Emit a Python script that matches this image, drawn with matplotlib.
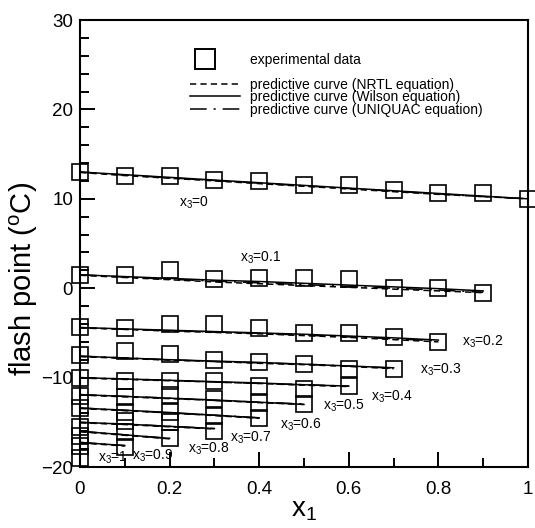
import numpy as np
import matplotlib
matplotlib.use('Agg')
import matplotlib.pyplot as plt
from matplotlib.ticker import MultipleLocator

plt.rcParams['font.family'] = ['Liberation Sans', 'DejaVu Sans']
plt.rcParams['mathtext.fontset'] = 'custom'
plt.rcParams['mathtext.rm'] = 'Liberation Sans'
plt.rcParams['mathtext.it'] = 'Liberation Sans:italic'
plt.rcParams['lines.scale_dashes'] = False

# ----------------------------------------------------------------------
# Data
# ----------------------------------------------------------------------

x1_grid = [0.0, 0.1, 0.2, 0.3, 0.4, 0.5, 0.6, 0.7, 0.8, 0.9, 1.0]
x3_values = [0, 0.1, 0.2, 0.3, 0.4, 0.5, 0.6, 0.7, 0.8, 0.9, 1]

exp_flash = [
    [13.0, 12.5, 12.5, 12.1, 12.0, 11.5, 11.5, 11.0, 10.6, 10.6, 10.0],
    [1.5, 1.5, 2.0, 1.05, 1.15, 1.15, 1.05, 0.05, 0.05, -0.5],
    [-4.3, -4.5, -4.0, -4.0, -4.4, -5.0, -5.0, -5.5, -6.0],
    [-7.5, -7.0, -7.4, -8.0, -8.3, -8.5, -9.0, -9.0],
    [-10.0, -10.4, -10.4, -10.4, -10.95, -11.3, -10.95],
    [-12.1, -12.2, -12.0, -12.4, -12.8, -13.0],
    [-13.4, -13.8, -13.8, -14.3, -14.5],
    [-15.5, -14.9, -15.0, -16.0],
    [-16.5, -16.1, -16.8],
    [-17.7, -17.8],
    [-19.0],
]

nrtl_flash = [
    [12.95, 12.6, 12.3, 12.0, 11.7, 11.4, 11.1, 10.8, 10.5, 10.25, 10.0],
    [1.45, 1.2, 0.95, 0.7, 0.5, 0.3, 0.1, -0.1, -0.3, -0.5],
    [-4.45, -4.6, -4.8, -4.95, -5.1, -5.3, -5.5, -5.75, -6.0],
    [-7.65, -7.85, -8.05, -8.2, -8.4, -8.55, -8.75, -9.0],
    [-10.05, -10.2, -10.35, -10.5, -10.65, -10.85, -11.0],
    [-11.95, -12.15, -12.35, -12.55, -12.8, -13.0],
    [-13.45, -13.7, -13.95, -14.25, -14.55],
    [-15.05, -15.25, -15.5, -15.75],
    [-16.05, -16.45, -16.85],
    [-17.3, -17.65],
    [-19.0],
]

wilson_flash = [
    [13.0, 12.7, 12.4, 12.1, 11.8, 11.5, 11.2, 10.9, 10.6, 10.3, 10.0],
    [1.5, 1.3, 1.1, 0.9, 0.75, 0.55, 0.35, 0.15, -0.05, -0.3],
    [-4.4, -4.55, -4.7, -4.85, -5.0, -5.15, -5.35, -5.55, -5.8],
    [-7.6, -7.8, -8.0, -8.15, -8.3, -8.5, -8.7, -8.9],
    [-10.0, -10.15, -10.3, -10.45, -10.6, -10.8, -10.95],
    [-11.9, -12.1, -12.3, -12.5, -12.75, -13.0],
    [-13.4, -13.65, -13.9, -14.2, -14.5],
    [-15.0, -15.2, -15.45, -15.7],
    [-16.0, -16.4, -16.8],
    [-17.25, -17.6],
    [-19.0],
]

uniquac_flash = [
    [13.0, 12.65, 12.35, 12.05, 11.75, 11.45, 11.15, 10.85, 10.55, 10.25, 10.0],
    [1.5, 1.25, 1.0, 0.8, 0.6, 0.4, 0.2, 0.0, -0.2, -0.45],
    [-4.4, -4.6, -4.75, -4.9, -5.05, -5.25, -5.45, -5.65, -5.9],
    [-7.6, -7.8, -8.0, -8.2, -8.35, -8.5, -8.7, -8.95],
    [-10.0, -10.15, -10.3, -10.5, -10.65, -10.8, -10.95],
    [-11.9, -12.1, -12.3, -12.55, -12.75, -12.95],
    [-13.4, -13.65, -13.95, -14.2, -14.5],
    [-15.0, -15.2, -15.45, -15.7],
    [-16.0, -16.4, -16.8],
    [-17.25, -17.6],
    [-19.0],
]

label_names = ['0', '0.1', '0.2', '0.3', '0.4', '0.5', '0.6', '0.7', '0.8',
               '0.9', '1']
label_x = [0.22, 0.357, 0.853, 0.759, 0.649, 0.543, 0.446, 0.335, 0.241,
           0.115, 0.04]
label_y = [9.6, 3.4, -6.0, -9.1, -12.1, -13.2, -15.3, -16.7, -18.0, -18.8,
           -19.0]

# ----------------------------------------------------------------------
# Plot
# ----------------------------------------------------------------------

fig = plt.figure(figsize=(5.35, 5.28), dpi=100)
ax = fig.add_axes([0.1495, 0.1155, 0.8374, 0.8466])

nrtl_style = dict(color='black', lw=1.1, dashes=(4.5, 3.0))
wilson_style = dict(color='black', lw=1.1, linestyle='-')
uniquac_style = dict(color='black', lw=1.1, dashes=(12.0, 5.0, 1.5, 5.0))

for i, x3 in enumerate(x3_values):
    n = len(exp_flash[i])
    x1 = x1_grid[:n]
    ax.plot(x1, nrtl_flash[i], **nrtl_style)
    ax.plot(x1, wilson_flash[i], **wilson_style)
    ax.plot(x1, uniquac_flash[i], **uniquac_style)
    ax.plot(x1, exp_flash[i], 's', ms=11, mfc='none', mec='black', mew=1.2,
            clip_on=False, zorder=3)

for name, lx, ly in zip(label_names, label_x, label_y):
    ax.text(lx, ly, 'x$_\\mathregular{3}$=' + name, fontsize=10,
            ha='left', va='center')

# legend: square row on its own, curves below with tight spacing
h_exp, = ax.plot([], [], 's', ms=14, mfc='none', mec='black', mew=1.4)
h_nrtl, = ax.plot([], [], **nrtl_style)
h_wil, = ax.plot([], [], **wilson_style)
h_uni, = ax.plot([], [], **uniquac_style)
leg1 = ax.legend([h_exp], ['experimental data'],
                 loc='upper left', bbox_to_anchor=(0.245, 0.926),
                 frameon=False, fontsize=10, handlelength=2.16,
                 handletextpad=2.16, borderpad=0, borderaxespad=0)
ax.add_artist(leg1)
ax.legend([h_nrtl, h_wil, h_uni],
          ['predictive curve (NRTL equation)',
           'predictive curve (Wilson equation)',
           'predictive curve (UNIQUAC equation)'],
          loc='upper left', bbox_to_anchor=(0.2455, 0.871), frameon=False,
          fontsize=10, handlelength=3.6, handletextpad=0.7, labelspacing=-0.1,
          borderpad=0, borderaxespad=0)

ax.set_xlim(0, 1)
ax.set_ylim(-20, 30)
ax.xaxis.set_major_locator(MultipleLocator(0.2))
ax.xaxis.set_minor_locator(MultipleLocator(0.1))
ax.yaxis.set_major_locator(MultipleLocator(10))
ax.yaxis.set_minor_locator(MultipleLocator(2))
ax.set_xticks([0, 0.2, 0.4, 0.6, 0.8, 1.0])
ax.set_xticklabels(['0', '0.2', '0.4', '0.6', '0.8', '1'])

ax.tick_params(which='both', direction='in', top=False, right=False,
               width=1.4, labelsize=13.5)
ax.tick_params(which='major', length=11)
ax.tick_params(which='minor', length=6.5)
ax.tick_params(axis='x', pad=10)
ax.tick_params(axis='y', pad=5)

for s in ax.spines.values():
    s.set_linewidth(1.5)

ax.set_xlabel('x$_\\mathregular{1}$', fontsize=20)
ax.xaxis.set_label_coords(0.5, -0.066)
ax.set_ylabel('flash point ($^\\mathregular{o}$C)', fontsize=21)
ax.yaxis.set_label_coords(-0.09, 0.42)

fig.savefig('out.png', dpi=100)
